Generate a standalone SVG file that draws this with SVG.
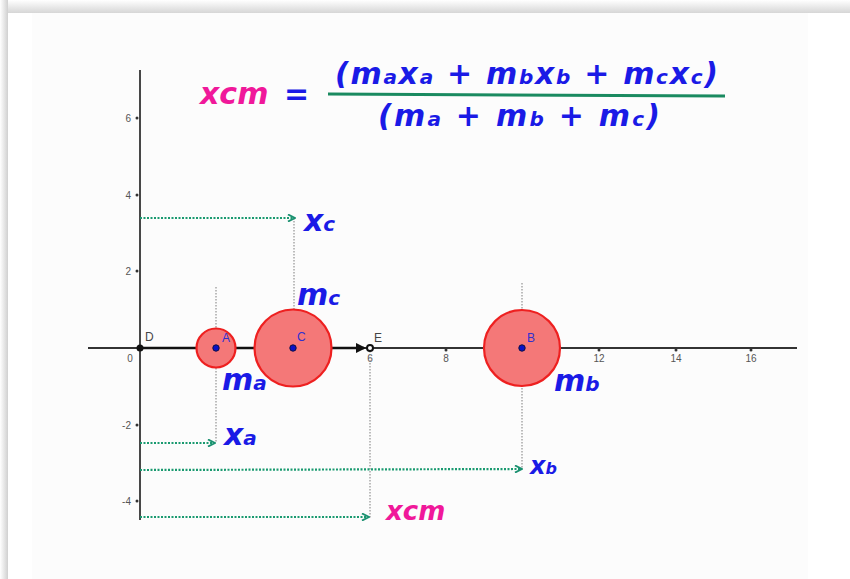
<svg xmlns="http://www.w3.org/2000/svg" width="850" height="579" viewBox="0 0 850 579">
<defs>
<linearGradient id="topShade" x1="0" y1="0" x2="0" y2="1"><stop offset="0" stop-color="#ffffff"/><stop offset="1" stop-color="#d6d6d6"/></linearGradient>
<linearGradient id="leftShade" x1="0" y1="0" x2="1" y2="0"><stop offset="0" stop-color="#ffffff"/><stop offset="1" stop-color="#d0d0d0"/></linearGradient>
<marker id="ga" viewBox="0 0 10 10" refX="9" refY="5" markerWidth="4" markerHeight="4" orient="auto"><path d="M1,1 L9,5 L1,9" fill="none" stroke="#1a9070" stroke-width="2.2"/></marker>
<marker id="va" viewBox="0 0 10 10" refX="8" refY="5" markerWidth="4" markerHeight="4" orient="auto"><path d="M0,0 L10,5 L0,10 Z" fill="#111"/></marker>
</defs>
<style>
.hand{font-family:"DejaVu Sans",sans-serif;font-weight:bold;font-style:italic;fill:#1a1ae6}
.pink{fill:#f0189a}
.sub{font-size:20px}
.tick{font-family:"Liberation Sans",sans-serif;font-size:10px;fill:#555}
.ptl{font-family:"Liberation Sans",sans-serif;font-size:12px;fill:#3030d0}
.ptlk{font-family:"Liberation Sans",sans-serif;font-size:12px;fill:#444}
.guide{stroke:#9a9a9a;stroke-width:1.3;stroke-dasharray:1.5 1.5;fill:none}
.garrow{stroke:#1a9a70;stroke-width:2.2;stroke-dasharray:2 1.5;fill:none;marker-end:url(#ga)}
.mass{fill:#f47878;stroke:#ee2020;stroke-width:2.2}
.pt{fill:#0a10c8;stroke:#101040;stroke-width:1}
</style>
<rect width="850" height="579" fill="#ffffff"/>
<rect x="0" y="0" width="850" height="13" fill="url(#topShade)"/>
<rect x="0" y="0" width="8" height="579" fill="url(#leftShade)"/>
<rect x="32" y="13" width="776" height="566" fill="#fcfcfc"/>

<g id="axes">
<line x1="140" y1="70" x2="140" y2="520" stroke="#333" stroke-width="1.8"/>
<line x1="88" y1="348" x2="797" y2="348" stroke="#333" stroke-width="1.8"/>
<g fill="#333">
<circle cx="137" cy="118" r="1.5"/><circle cx="137" cy="195" r="1.5"/><circle cx="137" cy="271" r="1.5"/><circle cx="137" cy="425" r="1.5"/><circle cx="137" cy="501" r="1.5"/>
<circle cx="446" cy="350" r="1.5"/><circle cx="599" cy="350" r="1.5"/><circle cx="676" cy="350" r="1.5"/><circle cx="751" cy="350" r="1.5"/>
</g>
<text class="tick" x="131" y="122" text-anchor="end">6</text>
<text class="tick" x="131" y="199" text-anchor="end">4</text>
<text class="tick" x="131" y="275" text-anchor="end">2</text>
<text class="tick" x="131" y="429" text-anchor="end">-2</text>
<text class="tick" x="131" y="505" text-anchor="end">-4</text>
<text class="tick" x="130" y="362" text-anchor="middle">0</text>
<text class="tick" x="216" y="362" text-anchor="middle">2</text>
<text class="tick" x="293" y="362" text-anchor="middle">4</text>
<text class="tick" x="370" y="362" text-anchor="middle">6</text>
<text class="tick" x="446" y="362" text-anchor="middle">8</text>
<text class="tick" x="522" y="362" text-anchor="middle">10</text>
<text class="tick" x="599" y="362" text-anchor="middle">12</text>
<text class="tick" x="676" y="362" text-anchor="middle">14</text>
<text class="tick" x="751" y="362" text-anchor="middle">16</text>
</g>

<g id="connectors">
<line class="guide" x1="216" y1="287" x2="216" y2="442"/>
<line class="guide" x1="294" y1="218" x2="294" y2="348"/>
<line class="guide" x1="370" y1="348" x2="370" y2="518"/>
<line class="guide" x1="522" y1="283" x2="522" y2="468"/>
<line class="garrow" x1="140" y1="218" x2="295" y2="218"/>
<line class="garrow" x1="140" y1="443" x2="215" y2="443"/>
<line class="garrow" x1="140" y1="470" x2="522" y2="469"/>
<line class="garrow" x1="140" y1="517" x2="369" y2="517"/>
<line x1="140" y1="348" x2="364" y2="348" stroke="#111" stroke-width="2.6" marker-end="url(#va)"/>
</g>

<g id="mass-a">
<circle class="mass" cx="216" cy="348" r="19.5"/>
<circle class="pt" cx="216" cy="348" r="3.2"/>
<text class="ptl" x="222" y="342">A</text>
</g>
<g id="mass-c">
<circle class="mass" cx="293" cy="348" r="38.5"/>
<circle class="pt" cx="293" cy="348" r="3.2"/>
<text class="ptl" x="297" y="341">C</text>
</g>
<g id="mass-b">
<circle class="mass" cx="522" cy="348" r="38"/>
<circle class="pt" cx="522" cy="348" r="3.2"/>
<text class="ptl" x="527" y="342">B</text>
</g>
<g id="point-d">
<circle cx="140" cy="348" r="3.5" fill="#111"/>
<text class="ptlk" x="145" y="341">D</text>
</g>
<g id="point-e">
<circle cx="370" cy="348" r="3" fill="#fff" stroke="#111" stroke-width="2"/>
<text class="ptlk" x="374" y="342">E</text>
</g>

<g id="formula">
<text class="hand pink" x="200" y="104" font-size="30">xcm</text>
<text class="hand" x="284" y="104" font-size="30">=</text>
<text class="hand" x="335" y="84" font-size="30" textLength="383" lengthAdjust="spacing">(m<tspan class="sub">a</tspan>x<tspan class="sub">a</tspan> + m<tspan class="sub">b</tspan>x<tspan class="sub">b</tspan> + m<tspan class="sub">c</tspan>x<tspan class="sub">c</tspan>)</text>
<line x1="328" y1="94" x2="725" y2="96" stroke="#1a8a60" stroke-width="3"/>
<text class="hand" x="378" y="126" font-size="30" textLength="282" lengthAdjust="spacing">(m<tspan class="sub">a</tspan> + m<tspan class="sub">b</tspan> + m<tspan class="sub">c</tspan>)</text>
</g>

<g id="labels">
<text class="hand" x="304" y="231" font-size="30">x<tspan class="sub">c</tspan></text>
<text class="hand" x="297" y="305" font-size="30">m<tspan class="sub">c</tspan></text>
<text class="hand" x="222" y="390" font-size="30">m<tspan class="sub">a</tspan></text>
<text class="hand" x="554" y="391" font-size="30">m<tspan class="sub">b</tspan></text>
<text class="hand" x="224" y="445" font-size="30">x<tspan class="sub">a</tspan></text>
<text class="hand" x="530" y="474" font-size="24">x<tspan font-size="16">b</tspan></text>
<text class="hand pink" x="386" y="520" font-size="26">xcm</text>
</g>
</svg>
